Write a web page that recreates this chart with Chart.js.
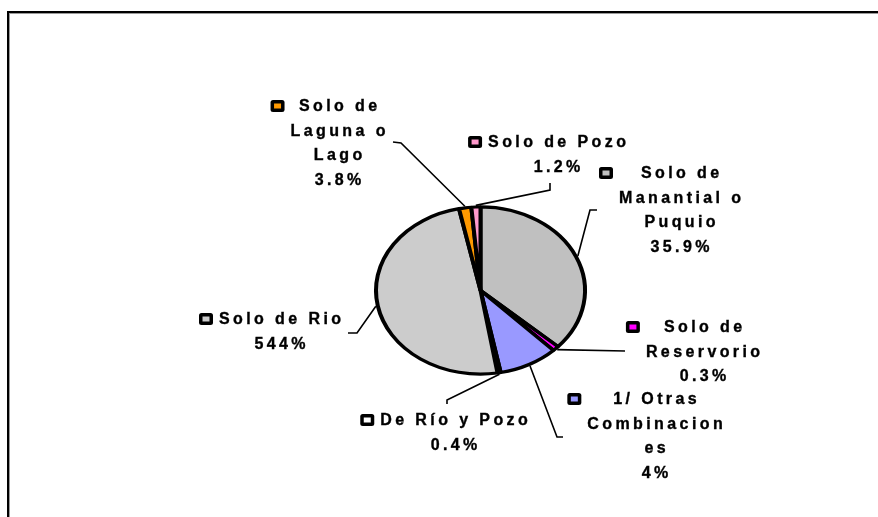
<!DOCTYPE html>
<html>
<head>
<meta charset="utf-8">
<script src="https://cdn.jsdelivr.net/npm/chart.js@4/dist/chart.umd.min.js"></script>
<style>
  html, body { margin: 0; padding: 0; background: #ffffff; }
  #wrap { position: relative; width: 878px; height: 517px; }
</style>
</head>
<body>
<div id="wrap"><canvas id="c"></canvas></div>
<script>
// ---- data ----
const categories = ['Solo de Manantial o Puquio', 'Solo de Reservorio', '1/ Otras Combinaciones',
                    'De Río y Pozo', 'Solo de Rio', 'Solo de Laguna o Lago', 'Solo de Pozo'];
// slice sizes as drawn in the reference (percent of circle)
const sliceValues = [36.7, 1.0, 9.2, 0.5, 49.3, 1.9, 1.4];
// percent labels as printed in the reference
const percentLabels = ['35.9%', '0.3%', '4%', '0.4%', '544%', '3.8%', '1.2%'];
// label text lines as wrapped in the reference
const labelLines = [
  ['Solo de', 'Manantial o', 'Puquio'],
  ['Solo de', 'Reservorio'],
  ['1/ Otras', 'Combinacion', 'es'],
  ['De Río y Pozo'],
  ['Solo de Rio'],
  ['Solo de', 'Laguna o', 'Lago'],
  ['Solo de Pozo']
];
const sliceColors = ['#c0c0c0', '#ff00ff', '#9999ff', '#ffffff', '#cccccc', '#ff9900', '#ff99cc'];

// ---- layout (positions of label boxes and leader elbows) ----
const labelLayout = [
  { cx: 680, y0: 174, elbow: [[597, 210], [590, 210]] },
  { cx: 703, y0: 328, elbow: [[625, 351]] },
  { cx: 655, y0: 400, elbow: [[563, 437], [557, 437]] },
  { cx: 454, y0: 421, elbow: [[447, 404], [447, 400]] },
  { cx: 280, y0: 320, elbow: [[348, 333], [357, 333]] },
  { cx: 338, y0: 107, elbow: [[393, 142], [401, 143]] },
  { cx: 557, y0: 143, elbow: [[550, 183], [550, 190]] }
];
const Y_SCALE = 0.8;
const LINE_H = 24.5;
const FONT = 'bold 16px Arial, "Liberation Sans", sans-serif';
const LS = 3.4;

function spacedWidth(ctx, t) {
  let w = 0;
  for (const ch of t) w += ctx.measureText(ch).width + LS;
  return w - LS;
}
function drawSpaced(ctx, t, x, y) {
  let cx = x;
  for (const ch of t) {
    ctx.fillText(ch, cx, y);
    ctx.strokeText(ch, cx, y);
    cx += ctx.measureText(ch).width + LS;
  }
}

const squashPlugin = {
  id: 'squash',
  beforeDatasetsDraw(chart) {
    const arc = chart.getDatasetMeta(0).data[0];
    const ctx = chart.ctx;
    ctx.save();
    ctx.translate(arc.x, arc.y);
    ctx.scale(1, Y_SCALE);
    ctx.translate(-arc.x, -arc.y);
  },
  afterDatasetsDraw(chart) {
    chart.ctx.restore();
  }
};

const framePlugin = {
  id: 'frame',
  beforeDraw(chart) {
    const ctx = chart.ctx;
    ctx.save();
    ctx.fillStyle = '#ffffff';
    ctx.fillRect(0, 0, chart.width, chart.height);
    ctx.fillStyle = '#000000';
    ctx.fillRect(7, 11, chart.width - 7, 2);
    ctx.fillRect(7, 11, 2, chart.height - 11);
    ctx.fillStyle = '#9a9a9a';
    ctx.fillRect(9, 13, chart.width - 9, 1);
    ctx.fillRect(9, 13, 1, chart.height - 13);
    ctx.restore();
  }
};

function roundRect(ctx, x, y, w, h, r) {
  ctx.beginPath();
  ctx.moveTo(x + r, y);
  ctx.lineTo(x + w - r, y);
  ctx.quadraticCurveTo(x + w, y, x + w, y + r);
  ctx.lineTo(x + w, y + h - r);
  ctx.quadraticCurveTo(x + w, y + h, x + w - r, y + h);
  ctx.lineTo(x + r, y + h);
  ctx.quadraticCurveTo(x, y + h, x, y + h - r);
  ctx.lineTo(x, y + r);
  ctx.quadraticCurveTo(x, y, x + r, y);
  ctx.closePath();
}

const labelPlugin = {
  id: 'sliceLabels',
  afterDraw(chart) {
    const ctx = chart.ctx;
    const arcs = chart.getDatasetMeta(0).data;
    ctx.save();
    ctx.font = FONT;
    ctx.textBaseline = 'middle';
    ctx.textAlign = 'left';
    arcs.forEach((arc, i) => {
      const lay = labelLayout[i];
      const mid = (arc.startAngle + arc.endAngle) / 2;
      const r = arc.outerRadius + 2;
      const ax = arc.x + r * Math.cos(mid);
      const ay = arc.y + r * Math.sin(mid) * Y_SCALE;
      // leader line
      ctx.strokeStyle = '#000000';
      ctx.lineWidth = 1.6;
      ctx.beginPath();
      ctx.moveTo(lay.elbow[0][0], lay.elbow[0][1]);
      for (let k = 1; k < lay.elbow.length; k++) ctx.lineTo(lay.elbow[k][0], lay.elbow[k][1]);
      ctx.lineTo(ax, ay);
      ctx.stroke();
      // text
      const lines = labelLines[i].concat([percentLabels[i]]);
      let maxW = 0;
      lines.forEach(t => { maxW = Math.max(maxW, spacedWidth(ctx, t)); });
      ctx.fillStyle = '#000000';
      ctx.lineWidth = 0.35;
      lines.forEach((t, k) => {
        const w = spacedWidth(ctx, t);
        drawSpaced(ctx, t, lay.cx - w / 2, lay.y0 + k * LINE_H);
      });
      // legend key
      const boxLeft = lay.cx - maxW / 2;
      const sw = 14, sh = 12;
      const sx = boxLeft - 6 - sw;
      const sy = lay.y0 - 1 - sh / 2;
      ctx.fillStyle = '#000000';
      roundRect(ctx, sx, sy, sw, sh, 2.5);
      ctx.fill();
      ctx.fillStyle = sliceColors[i];
      ctx.fillRect(sx + 3.5, sy + 3.5, sw - 7, sh - 7);
    });
    ctx.restore();
  }
};

new Chart(document.getElementById('c'), {
  type: 'pie',
  data: {
    labels: categories,
    datasets: [{
      data: sliceValues,
      backgroundColor: sliceColors,
      borderColor: '#000000',
      borderWidth: 4,
      hoverOffset: 0
    }]
  },
  options: {
    responsive: true,
    maintainAspectRatio: false,
    animation: false,
    events: [],
    layout: { padding: { left: 374, right: 291, top: 184, bottom: 120 } },
    plugins: {
      legend: { display: false },
      tooltip: { enabled: false },
      title: { display: false }
    }
  },
  plugins: [framePlugin, squashPlugin, labelPlugin]
});
</script>
</body>
</html>
